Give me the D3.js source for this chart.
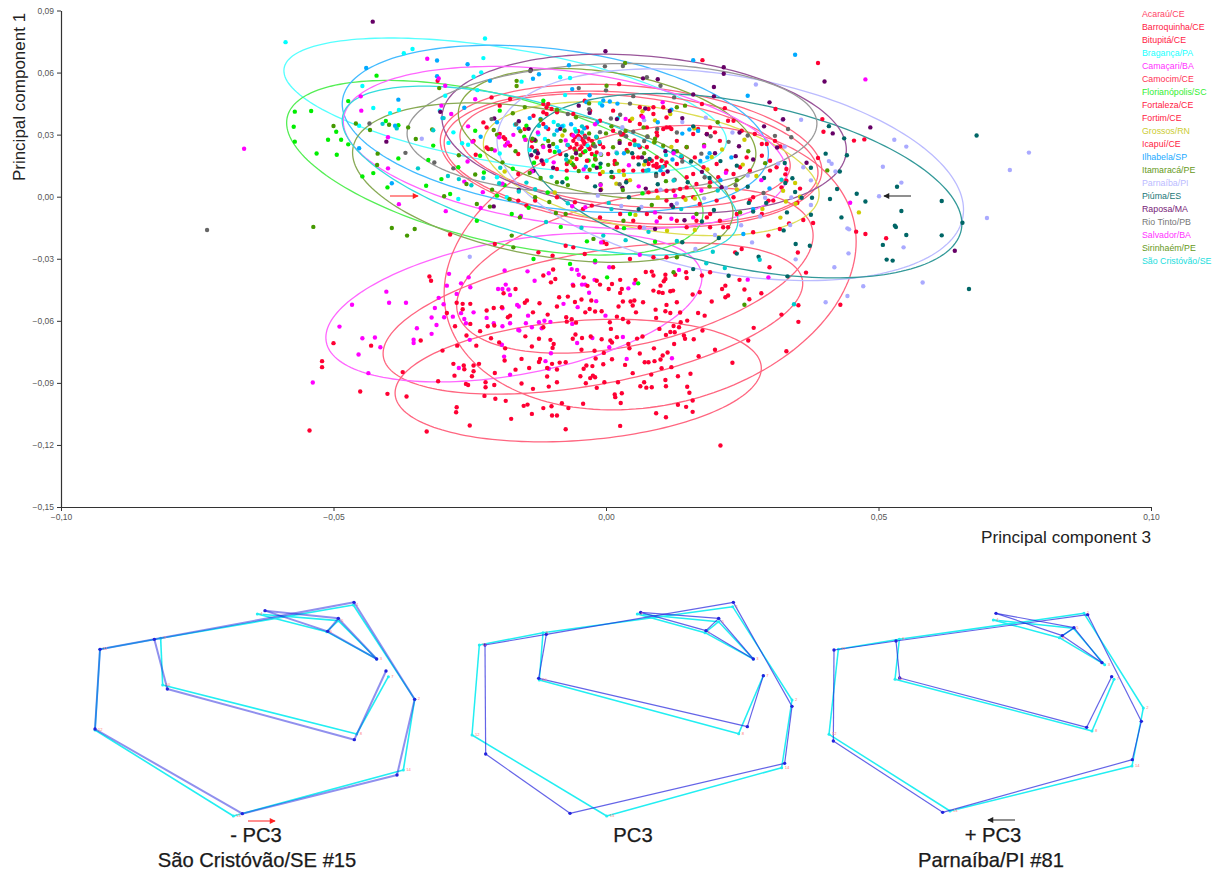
<!DOCTYPE html>
<html><head><meta charset="utf-8">
<script src="https://cdn.jsdelivr.net/npm/d3@7"></script>
<style>html,body{margin:0;background:#fff}svg{display:block}text{font-family:"Liberation Sans",Arial,sans-serif}</style>
</head><body><svg id="c" width="1224" height="872"></svg>
<script>
// Score values are in thousandths of a principal-component unit: [PC3, PC1]
const groupNames=["Acaraú/CE","Barroquinha/CE","Bitupitá/CE","Bragança/PA","Camaçari/BA","Camocim/CE","Florianópolis/SC","Fortaleza/CE","Fortim/CE","Grossos/RN","Icapuí/CE","Ilhabela/SP","Itamaracá/PE","Parnaíba/PI","Piúma/ES","Raposa/MA","Rio Tinto/PB","Salvador/BA","Sirinhaém/PE","São Cristóvão/SE"];
const dotColors=["#ff0033","#ff0033","#ff0033","#00ffff","#ff00ff","#ff0033","#00ee00","#ff0033","#ff0033","#cccc00","#ff0033","#00aaff","#559900","#aaaaff","#006666","#660066","#666666","#ff00ff","#449900","#00cccc"];
const lineColors=["#ff6680","#ff6680","#ff6680","#55ffff","#ff66ff","#ff6680","#55ee55","#ff6680","#ff6680","#dddd55","#ff6680","#44bbff","#88aa44","#bbbbff","#339999","#995599","#999999","#ff66ff","#88aa55","#33dddd"];
const legendColors=["#ff4466","#ff2244","#ff2244","#22ffff","#ff33ff","#ff3355","#33ee33","#ff2244","#ff2244","#cccc33","#ff2244","#22aaff","#669922","#bbbbff","#227777","#772277","#777777","#ff33ff","#669922","#22dddd"];

const acarau=[[17.7,66],[-30.9,56],[2.4,54.4],[-21,48],[-17.6,47.2],[-11.5,44.8],[-10.6,44.8],[-3.9,46.4],[1.3,41.6],[6.2,43.2],[7.8,42.4],[10.5,43.2],[17.6,44.8],[21.8,42.8],[31.1,42.4],[38.9,64.6],[39.7,37.5],[39.9,31.4],[45.5,27.1],[47.4,27.7],[38.9,18.7],[33.1,13.4],[32.9,10.8],[32,24.3],[35.6,3.9],[35.1,-3],[38,-12.7],[36.2,-11.3],[33.6,-12.9],[-10.9,43.2],[-10,42.4],[-11.5,40.8],[-21.9,23.8],[-19.5,30.3],[-18.5,27.9],[-17.6,24.7],[-14.9,32.7],[-13.6,23.9],[-12.7,19],[-6.6,23.9],[-5.7,28.7],[-5.1,29.5],[-4.5,27.9],[-3.9,25.5],[-3.2,23.9],[-2.6,27],[-4.8,23],[-4.2,21.4],[-2.6,20.6],[-.5,23.9]];
const barroquinha=[[-32.4,-38.6],[-32.1,-40.6],[-52.1,-79.5],[-52.1,-82.4],[-50,-70.8],[-43.1,-72],[-34,-69.5],[-45.1,-94.2],[-40.1,-95.3],[-36.6,-96.6],[-54.4,-113],[-32.9,-113.5],[-37.3,-84.8],[-30.8,-89.2],[-30,-74.4],[-28,-80.8],[-26.1,-81.6],[-26,-83.4],[-27.8,-86.5],[-24.3,-81.6],[-23.3,-80.8],[-24.3,-84.4],[-24.6,-86.8],[-25.7,-90.5],[-25.3,-91],[-22.1,-89.7],[-22.1,-92.1],[-20.5,-91],[-20.4,-85.2],[-22.3,-96.3],[-20.3,-97.7],[-18.4,-98.7],[-27.4,-101.8],[-27.5,-104.2],[-25,-110.6],[-17.4,-107.4],[-15.1,-101.1],[-14.4,-100.5],[-13.6,-105],[-11.5,-102.2],[-10,-101.3],[-9.9,-105.8],[-9,-105.8],[-8.1,-99.8],[-6.9,-102.2],[-7.4,-112.4],[-4.2,-100.1],[2.6,-110.8],[1.6,-95.6],[1.7,-96.9],[2.9,-95],[2.7,-99.7],[9.2,-104.7],[11,-106.6],[13.2,-100.6],[14.7,-101.6],[15.9,-104],[15.9,-98.5],[15.3,-94.8],[14.9,-91.9],[11,-91.6],[10.9,-88.6],[8.4,-92.1],[7.4,-92.3],[6.3,-91.6],[7,-89.7],[21,-120.3]];
const bitupita=[[-18.8,28.7],[-21.6,23],[-24.3,27],[-23.9,20.3],[-22.5,35.9],[-19.5,44],[-10.9,40],[-10.6,32.7],[-9,40.8],[-11.5,35.1],[-13.3,39.1],[-16.1,20.6],[-18.2,25.5],[-21.9,33.5],[-13.6,27],[-12.7,22.2],[-11.5,15.8],[-10.3,22.2],[-9,13.4],[-16.1,-1.9],[-14.6,-4.3],[-13,-1.9],[-16.1,11],[-9,-.3],[-5.7,-2.7],[-4.2,-5.9],[-2.6,-4.3],[-.5,-22],[.1,-22.9],[-6,-24.5],[-7.4,-23.7],[-3.9,-27.7],[-12.4,-26.9],[-9.8,-28.5],[-20.4,-22.9],[-28.6,-18.3],[.4,20.6],[1.6,15.8],[5.9,19],[7.8,15.8],[8.4,17.4],[9.3,15.8],[9.3,14.2],[10.2,17.4],[10.8,15],[11.7,33.5],[10.5,32.7],[9.3,31.1],[7.5,33.5],[6.5,39.1],[11.1,38.3],[8.7,43.2],[16.9,32.7],[18.5,30.3],[20,31.1]];
const braganca=[[-44.7,53.5],[-42.7,42.9],[-39.6,40.4],[-38,41.9],[-45.3,34.3],[-58.8,74.7],[-22.2,76.5],[-37.1,69.3],[-35.5,71.4],[-22.5,67],[-15.5,55.6],[-6.6,57.4],[-8.4,57.7],[-7.5,49.1],[-1.1,45.1],[-23.6,51.5],[-22.9,60.1],[-24.3,58],[-29.5,48.8],[-30.5,41.6],[-28,31.1],[-25.3,25.1],[-26.4,25.8],[-28.9,26],[-19.5,20.9],[-20,9.4],[-16.7,34.8],[-7.8,34.3],[-5.7,32.7],[-10.9,17.4],[-9,23.9],[-18.2,-.3],[-27.1,-1.1],[-12.4,30.2],[-9.6,36.1],[-3.4,24.8],[2.2,38],[-14,22.6],[-11.2,27.9]];
const camacari=[[-28.8,-37.3],[-26.6,-41.9],[-25.2,-39],[-24.9,-43.8],[-29.2,-43],[-27.4,-47],[-18.6,-35.7],[-14.4,-36.1],[-13.1,-40.6],[-10.5,-37],[-5.3,-35.4],[-5,-37.7],[-2,-31.7],[.6,-34.1],[13.4,-35.4],[5.2,-41.9],[4.1,-44.3],[-40.3,-45.9],[-46.6,-52.2],[-39.8,-51.3],[-36.7,-51.3],[-48.9,-62.8],[-44.7,-68.4],[-42.4,-68.1],[-41.4,-72.8],[-45.4,-76.3],[-43.6,-85.3],[-53.8,-89.8],[-34.7,-63.6],[-35.3,-69.1],[-35.3,-70.7],[-32,-66.3],[-31.1,-62],[-32,-58.4],[-31.4,-53.8],[-30.7,-48.9],[-29.8,-52],[-29.7,-58.3],[-28.1,-58],[-26.6,-56.3],[-26,-59.1],[-25.7,-61.2],[-24.3,-55.9],[-25,-69.2],[-19.8,-44.6],[-19,-44.6],[-18.4,-42.5],[-17.9,-44.9],[-17.6,-47.5],[-19,-53.9],[-16.3,-52.3],[-16,-53.1],[-21.9,-58.6],[-20.6,-61.2],[-19,-62.6],[-17.6,-61.2],[-16.1,-64.4],[-15.9,-64.7],[-14.7,-61.2],[-14.3,-57.5],[-13.6,-63.1],[-12.3,-60.7],[-11.3,-60],[-10.2,-60.5],[-11.8,-63.6],[-19.1,-71.6],[-18.7,-77.3],[-27,-82.8],[-17.6,-86],[-11.1,-79.5],[-10.5,-83.2],[-10.1,-75.7],[-7.8,-51.8],[-5.2,-53.4],[-6.1,-42.5],[-4.4,-42.5],[-3.8,-42.5],[-3.1,-46.4],[-1.8,-50.5],[-6.2,-61.5],[-2.5,-68.3],[-5.3,-70.7],[-.1,-57.5],[3.1,-67.8],[.6,-72.8],[3.8,-78.4],[12.1,-78.1],[26,-40.1],[29.8,-39],[-2.1,-40.2]];
const camocim=[[23.2,-80.3],[20,-74],[17,-77.1],[16.1,-68.9],[14.3,-67.1],[14.5,-68.7],[12.5,-71.2],[11,-66.8],[11.8,-65.4],[12.6,-65.5],[13.4,-63.1],[12.4,-62.5],[9.8,-63.9],[14.9,-59.9],[13.7,-60.7],[17.7,-64.7],[26.1,-69.5],[33.1,-74.7],[27.1,-63.4],[32.2,-57],[35.3,-60.5],[8.8,-73.3],[11.3,-75.3],[10,-78.7],[10.4,-76.8],[8.9,-79.5],[7.8,-80],[7.1,-80],[12,-82.4],[10.2,-82.9],[13.2,-86.8],[15.5,-85.6],[8.3,-86],[6.2,-75.8],[4.3,-73.3],[6.7,-67.6],[5.7,-68.6],[4.1,-71.2],[4.9,-85.3],[3.5,-81.3],[1.1,-78.6],[-.5,-81],[-1.9,-78.2],[-.4,-75.5],[-2.1,-74.5],[-4.5,-74],[1.1,-70.5],[.8,-69.5],[-.8,-68.9],[-2.8,-67.6],[-4.4,-68.3],[-5.6,-66.6],[-6.1,-68.7],[2,-67.9],[.9,-63.9],[.7,-60.7],[4.1,-60.7],[3.1,-59.1],[2,-58],[-.3,-89.7],[2.2,-89.7],[-1.7,-92.4],[-2,-87.3],[-2.4,-86.5],[-2.9,-87.7],[-3.7,-90.2],[-4.7,-86.8],[-4.1,-83.2],[-3.6,-81.6],[-2.5,-81.9]];
const florianopolis=[[-42.1,58.5],[-47.3,46.2],[-57.1,41.1],[-54.1,41.4],[-57.3,33.8],[-57.1,26.6],[-53.1,20.9],[-49.4,20.3],[-51,27.5],[-49.5,31.4],[-48.6,27.5],[-47.3,25.3],[-40.4,36.6],[-38.1,34.5],[-38.1,18.5],[-44.7,9.8],[-42.7,11.4],[-40.1,4.5],[-31.7,24.7],[-32.6,17.7],[-33,5.3],[-30.2,8.5],[-27.1,14.2],[-24,31.9],[-23.1,19.8],[-20,.5],[-17.3,-8.4],[-23.7,-11.6],[-28.6,1.3],[-19.5,41.6],[-14.6,34.3],[-11.5,46.4],[-2.3,15],[-2,-30.9],[-13.3,-30.1],[4.4,-8.4],[-1.1,14.2],[-6.6,-32.5],[.2,-39],[5.9,-41.9],[-9.4,21.6],[-6.3,16.2],[-3.8,22],[-15,29],[-13.2,16.4],[-17.1,13.5],[-3.2,17.5],[-2,19.8],[-7.2,8.8],[-10.7,2],[-14.2,-5.4],[-18.6,5.6],[-22.4,11.7],[-8.3,-14.6],[-3.5,-21.6],[3.3,-15.2],[9,-21.8],[6.7,1.6]];
const fortaleza=[[-4.8,28.7],[-4.2,27],[-5.4,25.5],[-4.5,23.9],[-3.9,29.5],[-6,27],[-3,23],[-1.1,25.5],[-1.7,21.4],[-2,18.2],[-3.5,17.4],[-5.4,18.2],[-7.2,15.8],[-8.4,20.6],[4.4,36.7],[6.2,35.1],[8.7,40],[11.1,33.5],[12,32.7],[13,27],[16,30.3],[19.1,33.5],[20.9,27],[22.4,36.7],[29.5,25.5],[25.8,19],[-6.3,30],[-5.1,31.6],[-4,26.2],[-3.2,28],[-5.8,23.2],[-2.4,24.7],[2.8,30],[5.2,27.2],[7.5,24],[9.4,29.6],[1.6,17.3],[3.8,22.6],[23.4,36.7],[24.9,31.9],[27.3,30.3],[28.6,25.5],[31,27],[30.1,17.4],[28.6,19.8],[26.4,12.6],[24.6,14.2],[22.1,12.6],[20.6,9.4],[19.1,7],[16.6,6.1],[14.8,9.4],[13.6,3.7],[11.1,2.9],[9.3,2.9],[7.8,2.1],[16,-.3],[17.2,-3.5]];
const fortim=[[7.5,17.4],[8.7,15],[9.3,19],[9.9,14.2],[11.1,16.6],[6.8,12.6],[5,19],[3.2,12.6],[30.1,12.6],[31.3,14.2],[33.1,7.7],[23.4,11],[20.3,15.8],[17.9,14.2],[16,11],[14.8,4.5],[12.4,2.9],[14.2,-.3],[11.1,-1.9],[27,-.3],[29.8,-1.9],[23.4,-.3],[20.3,-1.9],[19.1,-14.8],[21.5,-14.8],[16.6,-11.6],[18.5,-10],[14.8,-14.8],[13,-11.6],[9.9,-10],[7.5,-8.4],[6.2,-14.8],[2,-14.8],[2.6,-8.4],[-1.1,-10],[5,-11.6],[27,-17.2],[31.9,-15.6],[29.8,-18.8],[23.7,-26.9],[24.9,-25.3],[11.1,-29.3],[8.7,-29.3],[4.4,-30.1],[1.3,-34.1],[45.9,-16.9],[47.6,-18],[51.4,-20.1],[35.2,-27],[36.7,-36.7],[43,-52.2],[35.3,-52.5],[19.1,-8.4],[20.9,-11.6],[22.4,-14.8],[24,-8.4],[26.4,-1.9],[28.6,-8.4],[30.7,-1.9],[32.2,4.5],[10.5,11],[5,12.6],[1.3,9.4],[3.8,7.7],[-1.1,11],[-3.5,9.4],[-5.7,14.2],[-7.2,12.6],[-3.5,33.5],[-2.9,41.6],[-6,40],[-1.1,36.7],[1.3,31.9],[3.2,30.3],[4.4,25.5],[6.2,23.9],[14.8,23.9],[13.9,19],[13,15.8],[16.3,19]];
const grossos=[[46.4,-7.6],[34.7,6.6],[33,-2.3],[34.8,-3.4],[35.6,0],[32,-10.1],[32.5,2.9],[-18.6,12.2],[-14.7,27.5],[-8,29.6],[-6.6,17],[-.6,11.9],[3.3,10.5],[7,15.5],[8.8,26.3],[6.7,41.3],[4.8,37.7],[11.8,40],[16.2,33],[19.4,19.2],[21.3,22.8],[25.4,27.5],[27.6,10],[24,3.5],[16.3,-.9],[9.5,-.4],[5.4,-8.8],[11.2,-16.5],[16.3,-16.1],[1.9,6.3],[-.9,3.6],[28.7,-5.9],[2.4,12.4],[4.4,8],[14.6,-1.5],[18.6,13.2],[25.1,15.5],[12,24.1],[9,36.9],[-9.4,2]];
const icapui=[[-9,-83.5],[-10.8,-82.8],[-10.8,-86.9],[-10.5,-91.8],[-9,-89.7],[-9.9,-80.8],[-8.5,-80.2],[-7.4,-80],[-12.1,-78.4],[-12.3,-79.9],[-14.1,-82.8],[-15.5,-78.4],[-16.6,-83.6],[-15.5,-90.3],[-13.4,-92.9],[-18.6,-79.2],[-18.5,-73.3],[-19.6,-70.5],[-21.1,-68.4],[-23.8,-72],[-27.3,-72],[-25.6,-67.1],[-23.1,-65],[-9.6,-71.2],[-9.8,-73.1],[-13.6,-72.4],[-12.3,-68.7],[-10.2,-69.2],[-14.8,-67.5],[-11.5,-63.1],[-7.3,-58.3],[-6.3,-59.2],[-5.5,-60.9],[-7.2,-60.4],[-10.7,-57],[-13.4,-55.9],[-18,-58.3],[-17.6,-57.5],[-19.1,-53.4],[-20.6,-53.8],[-21.9,-55],[-21.7,-62.6],[-20.5,-62.3],[-24.9,-61.5],[-27.7,-62.6],[-29.2,-56.2],[-24.9,-51.8],[-26.3,-51.8],[-27.4,-51.3],[-26.3,-54.4],[-12.2,-51.5],[-14.5,-50.2],[-14.9,-51.3],[-9,-53.1],[-8.6,-48.6],[-7,-48.3],[-5.7,-50.9],[-4.5,-49.7],[-3.8,-55.9],[-3,-54.3],[-2,-55.5],[-.8,-55.4],[-2.7,-50.2],[2.3,-53.1],[3.1,-50.7],[4.5,-50.7],[5.2,-50.2],[4.9,-52.6],[6.8,-51],[5.5,-55.9],[9.1,-54.6],[9.2,-58.6],[10.9,-55.4],[11.8,-56.2],[13.6,-56],[11.1,-52.3],[13,-51],[16.9,-56.2],[18.1,-57.5],[19.4,-50.7],[15.9,-47.3],[17.2,-46.2],[21.3,-44.6],[21.9,-43],[22.4,-47.8],[21.9,-48.6],[24.5,-40.2],[25.4,-44.9],[28.5,-46.7],[26.3,-49.6],[30,-34.1],[8.7,-45.4],[9.7,-46.2],[10.4,-46.5],[11.8,-45.7],[12.3,-45.4],[10,-43],[10.6,-40.9],[10.9,-39.8],[12.7,-37.7],[10.9,-37.7],[8.7,-38.1],[7.3,-36.4],[8.4,-36.2],[14.7,-36.5],[14.8,-39.3],[19.1,-36.5],[17.6,-38.1],[5.4,-40.2],[2.6,-40.2],[2.9,-44.6],[2.6,-46.5],[1.1,-42.2],[-1.1,-42.5],[.5,-44.6],[-1.7,-40.6],[-3.4,-43.1],[-4.1,-39],[-6,-43],[-9.3,-39.8],[-10.1,-41.4],[-11.5,-38.1],[-16.6,-44.6],[-18.8,-46.7],[-9.7,-35.2]];
const ilhabela=[[-44,62.2],[-38.1,46.9],[-45.3,23.4],[-39.3,6.5],[-38.7,34.3],[-31,65.8],[-31,58.2],[-25.4,64],[-21.3,56],[-6.8,63.5],[-12.3,59.2],[-13.4,57],[-6.2,52],[-3,49],[-.5,46.5],[2.1,45],[16,66],[34.7,68.6],[26,48.8],[12,42],[9.5,36],[14,30.5],[16.9,31.8],[-1.6,36],[-4,33],[-9,32],[-14,38],[-16,33],[-20,36],[-23,29],[-26,43],[-30,38],[-8.6,22],[-3.7,14.5],[3.3,21],[6,24.8],[10,12.8],[19,21],[23,19],[21,8],[30,4],[27,-6],[25.2,-18],[-.7,44.1],[-3.6,45.7],[.7,46],[-11,33.6],[-8.1,34],[-6.4,35],[-12,37.6],[15.3,32.5],[12.2,18],[7.8,12.9],[17.3,17.3],[18.6,19]];
const itamaraca=[[-31.9,32.5],[-30.6,52.5],[-16.4,56],[-16.4,53.5],[.1,53.6],[3.5,64.6],[-9.7,25.5],[-1.7,28.7],[-2.3,25.5],[1.3,23.9],[2.5,27],[6.9,33.5],[13,43.2],[14.5,44],[40.6,12.7],[-5.5,38.4],[-3.1,45.1],[-9,42],[-12,37.2],[-15.7,31.6],[-20,30],[-7,17],[-3,13],[2,16],[7,21],[9,28],[13,22],[18,25],[20.5,36],[26.1,22],[29.2,16.2],[24,8],[19,5],[-11.6,24.7],[-10.6,26.9],[-12.9,27],[-6.2,19],[-5.5,22],[-.9,20.3],[-1.9,18],[0,30.6],[1,34],[3.6,31.8],[4,21.8],[7.6,29.1],[8.9,26.3],[10.5,24.6],[14.8,24],[-17.1,40.3],[-14.9,43.3],[-20.6,32.2]];
const parnaiba=[[77.6,21.3],[74.1,12.9],[69.9,-10.3],[58.1,-41.5],[55.1,24.2],[52.9,27.5],[50.8,14.5],[54.2,6.8],[50.1,.2],[54.6,-24.5],[44.5,-27.4],[41.9,-34.1],[47.2,-43.3],[44.3,-48],[40.3,-51],[44.3,-15.3],[44.6,-15.8],[40.9,17.2],[41.4,15.9],[42.1,12.2],[36.2,14.2],[37.6,7.9],[37.6,-4],[33.8,-13.7],[34.8,-30.3],[35.8,37.2],[32.4,37.2],[32.8,24.2],[29.2,-.5],[28.3,-9.6],[24.8,-13.8],[26.8,-22.1],[20,-18.5],[16.4,-25.3],[7,-15],[6.5,-5],[14,36.1],[18.3,38.2],[23.2,31],[27.5,54.2],[-25,-29],[-5,28],[-33.8,28],[1.9,21.5],[-1,20.6],[3,33.6],[7,37],[10,3.4],[13,-3.3],[22,4.2],[26,10.2],[31.6,16],[34,-.4],[-1.5,0.5],[2.8,-4.5],[18,-.8]];
const piuma=[[68,29.6],[61.6,-2.1],[65.4,-12.6],[61.6,-18.7],[66.6,-44.6],[53.4,4.8],[46,1.4],[47.6,-2.3],[54.2,-6.9],[53,-14],[53.2,-14.7],[55.1,-18.5],[50.8,-23.3],[51.5,-30.4],[52.6,-30.9],[43.2,-10],[41.1,-1.1],[42.4,3.7],[37.8,-.5],[35.9,-.5],[37.6,-8.7],[33.2,-7.6],[32.6,-16.3],[34.8,-22.9],[37.4,-23.7],[33.3,-38.5],[40.3,20.8],[44.2,20],[42.9,12.2],[43.7,28.2],[40.9,34.1],[37.6,14],[34.2,8.9],[32.8,16.3],[32.9,6.6],[34.7,2.3],[29.4,-3],[27,-7.2],[26,4.8],[24,15],[21,17.2],[19,9],[15,7],[12.3,-5],[9.2,11],[7.2,17.2],[4.8,21],[-1,16],[-7.3,20],[-13,22],[-8,7],[-2,5],[16,34],[14,-22],[6,-6],[20.7,-20],[24,-27.5],[16,-35],[28,-29],[22.5,-38.2],[6,15.6],[8,18.2],[12.4,21.9],[15.6,17],[3.7,7],[1,12],[9.5,6],[4.2,-.3],[29,9],[26.2,-3],[19.8,-6.4],[17.6,-12]];
const raposa=[[-42.8,84.6],[-40.3,26.6],[40.1,55.7],[48.5,33.5],[41.6,30.6],[36.8,16.4],[64,-26.1],[32.5,37.4],[21.6,62.6],[21.6,59.4],[-.1,70.3],[-13.8,61.4],[9.5,56.8],[6.8,57.2],[19.8,53],[16,49.4],[19.8,48.5],[30,45.6],[-30.4,41],[-20.5,37.8],[-16,36.5],[-14.2,32.8],[-13.1,27.5],[-8.4,32.8],[-3,40.5],[2,37.5],[7.2,42.6],[11.7,41.4],[14,38],[18.5,30.2],[24.5,31],[29,34],[24.4,24.4],[20,21],[10.9,22],[6.6,19],[2.5,26],[-5.5,21],[-9.7,14],[-13.3,12.5],[-16,3.3],[-20.6,-4.7],[12,-4],[14.4,-11.4],[9,-15.6],[-12.5,21],[-11.8,17.5],[-13.7,20],[-10.4,24.5],[-1.7,14],[-1,3.2],[3,4.4],[11.3,12.2],[17.6,12],[23.8,19.6],[31.4,23.8],[27,18],[21.2,4.6],[7.3,3.9],[-5,44]];
const rioTinto=[[-73.2,-16.1],[-43.4,35.4],[33.4,32.7],[34,28.7],[-.2,63],[3.1,63.2],[-13.9,60.7],[-5,52.5],[0,51.4],[5,48.6],[7.5,57.7],[10,53.6],[12.5,48],[4.4,45],[2.6,39.6],[-3.1,42.3],[-7,40],[-16.5,35],[-21,37.5],[-3.8,28.7],[2.6,31],[7.6,29],[13,31],[19.2,29.2],[22.5,26.5],[-1,6],[2.5,6],[-2,24.3],[23.8,5.5],[28.9,1.8],[18.1,9.4],[12.6,8.2],[9.2,10],[-28,13.7],[-36.8,21.2],[-31.5,16.5],[3.7,29.2],[5,31.4],[7,26.9],[9.4,32.8],[-1.1,31.2],[0.9,37.8],[14,17],[17.5,20.8],[26,29.6],[31,29.4]];
const salvador=[[-66.4,23.2],[-45,48.5],[-44.9,41.6],[-40,28.7],[-40,13.7],[-32.8,66.7],[-30.7,57.1],[-29.5,53.6],[-24,47.1],[-30.2,44],[-28.4,40],[-25.3,34],[-24.5,26.6],[-20.4,22.3],[-18.5,24.7],[-18,26.2],[-11.5,24],[-12.5,31],[-6,29.6],[-2,35],[3.6,37.6],[6.8,38.4],[10.4,45.6],[47.6,56.7],[44.8,-2.9],[12.4,21],[18,24.3],[22,11.6],[28.5,8],[6,5],[-1,5.6],[-.9,-22.1],[-3.8,-5.1],[-6.2,-4.6],[-15.6,-9.3],[-23,-5.5],[-29.4,-7],[-38,-3.6],[12,-10.7],[16,-10],[9,-7.6],[6.2,-28.1],[-6.3,-35],[-19.6,28.7],[-17,29.9],[-14.8,27.5],[-7.1,25],[-7.4,27.2],[-4.1,13.2],[-9.6,16.6],[-13.6,12.2],[-19,6.3],[-22.6,2.2],[-26,7.3],[-25.4,17],[4.2,15.2],[9.3,-12],[12.7,.5],[17.5,3]];
const sirinhaem=[[-50,34.2],[-45.9,35.4],[-43.3,32.2],[-39.8,34.8],[-41.9,20.8],[-42,15.3],[-53.7,-14.6],[-39.3,-15.1],[-34.9,27.9],[-36.3,33.5],[24.6,-7.6],[16.6,-8.4],[13,-29.3],[3.2,-11.6],[-2.3,-20.4],[-7.4,-8.4],[-9.2,-7.9],[-13,-.3],[-15.8,-10],[-17.3,-18.8],[-17,-24.5],[-23.7,-3.5],[-25.6,6.1],[-29.7,.2],[-35.1,-15.6],[-36.5,-18.8],[-21.3,-4.8],[25.4,-52.2],[12.4,-36.5],[-12,9],[-9,7],[-7,5.6],[-19,16.6],[-14,11.5],[-5,12.4],[1,9.6],[-16.6,22],[-13.5,28],[-7.6,32],[-8.3,27],[-4.7,20.1],[-6,15.3],[-3.1,30.6],[.4,15.4],[3.1,3.2],[8.4,-4],[11,7.5],[-10.4,-2.6],[-17.7,-1.2],[-20.9,3.4],[-24,10.7],[-27,20],[-21,23]];
const saoCristovao=[[34.5,-52],[32.2,8.2],[-29.8,38],[-31.7,32.1],[-34.5,13.7],[-29,10],[-27,8.5],[-24.7,5.5],[-22.5,9],[-19.6,6.5],[-16,2.5],[-13,3.6],[-10,9.6],[-7.3,18],[-9.5,30],[-5.5,31.5],[-4.4,34],[-7,25],[-1.8,29],[2,21],[5.3,25],[7.4,12.6],[12.4,7.8],[.5,-3],[-11,-12.2],[-4.5,-15],[-.5,-18.8],[3.6,-21],[7.8,-17],[13,-21.4],[18.4,-32.2],[21.8,-34.5],[19.6,-26.6],[28.2,-30.5],[-41,35.2],[-38.4,33],[-7,-3.2],[1,-6],[10.4,14.4],[20.5,3],[13.8,-6],[-12.3,34.3],[-8.8,34.6],[-4.4,31],[-1.2,26.4],[11,20.1],[13.8,19.6],[-19.4,14],[-14.6,6.8]];
const groupValues=[acarau,barroquinha,bitupita,braganca,camacari,camocim,florianopolis,fortaleza,fortim,grossos,icapui,ilhabela,itamaraca,parnaiba,piuma,raposa,rioTinto,salvador,sirinhaem,saoCristovao];

// 90% ellipses: centre PC3, centre PC1, half width, PC1 shift at the widest point, half height
const ellipseCx=[4.6,-2.4,5.3,-18.5,-16.9,-5.1,-20.4,4.6,3.5,8.3,8.1,-9.3,.2,22.8,25.5,7,1.1,-7.5,-11.6,-12.1];
const ellipseCy=[19.8,-58.9,-35.7,44,-53.6,-88.9,14,18.8,22.2,13.5,-34.3,32.8,30.4,10.6,5.3,30.4,32.9,23.7,6.8,12.6];
const ellipseHw=[35,38.5,32.7,40.6,34.5,33.6,38.2,34.3,30.3,30.8,37.8,39.1,27.3,42.8,39.8,37.1,37.6,40.7,34.9,36.3];
const ellipseSh=[-7.2,16.9,16.9,-16.9,14.5,6,-21.7,-7.2,-7.2,-12.1,12.6,-12,-9.7,-16.9,-18.4,-7.7,2.4,-12.6,-14.5,-24.2];
const ellipseHh=[33.8,32.4,36.2,28,32.9,29,36.2,31.4,26.6,30,67.6,38.6,30,48.3,40.6,37.7,31.4,37.2,35.7,32.9];

const xTicks=[-0.10,-0.05,0,0.05,0.10];
const yTicks=[0.09,0.06,0.03,0,-0.03,-0.06,-0.09,-0.12,-0.15];

// Wireframes: landmark positions in outline units
const linksFrom=[0,0,1,1,2,4,5,6,7,8,9,10,5,11,12];
const linksTo  =[1,2,2,3,3,5,6,7,8,9,10,4,11,12,13];
const landmarkIds=[4,5,6,3,1,9,11,12,13,14,2,10,8,7];
const shapeMinusX=[615,835,803,950,882,283,120,105,547,1011,1064,322,883,978];
const shapeMinusY=[62,85,124,207,37,148,178,417,671,555,328,297,449,243];
const meanMinusX=[592,835,800,950,880,302,120,105,520,1030,1064,308,890,985];
const meanMinusY=[72,92,125,207,45,145,178,420,678,540,328,285,432,260];
const shapeMidX=[572,806,768,910,850,289,105,107,360,1004,1026,266,892,940];
const shapeMidY=[67,85,122,207,37,133,165,492,670,520,349,265,410,257];
const meanMidX=[562,806,765,910,848,279,88,66,470,995,1026,268,866,940];
const meanMidY=[72,95,128,207,50,128,165,435,678,533,330,270,431,257];
const shapePlusX=[558,792,757,876,833,258,72,70,398,967,994,269,830,905];
const shapePlusY=[70,113,137,218,74,153,180,453,667,509,394,264,412,260];
const meanPlusX=[550,790,748,884,822,268,85,57,420,966,1000,255,846,912];
const meanPlusY=[90,115,143,224,70,148,178,433,663,528,354,268,423,268];

const svg=d3.select("#c");
const defs=svg.append("defs");
[["red","#ff2222"],["blk","#222222"]].forEach(([id,c])=>{
  defs.append("marker").attr("id",id).attr("viewBox","0 0 8 8").attr("refX",7).attr("refY",4)
   .attr("markerWidth",7).attr("markerHeight",6).attr("markerUnits","userSpaceOnUse").attr("orient","auto")
   .append("path").attr("d","M0,0L8,4L0,8Z").attr("fill",c);
});
const x=d3.scaleLinear().domain([-0.10,0.10]).range([61,1151]);
const y=d3.scaleLinear().domain([-0.15,0.09]).range([507,10.5]);
const k=v=>v/1000;
const fmt=d3.format(".2f"), comma=v=>fmt(v).replace(".",",");

const plot=svg.append("g");
const ell=d3.line().x(d=>x(d[0])).y(d=>y(d[1])).curve(d3.curveLinearClosed);
const angles=d3.range(0,2*Math.PI,Math.PI/90);
groupNames.forEach((n,i)=>{
  const pts=angles.map(t=>[k(ellipseCx[i]+ellipseHw[i]*Math.cos(t)),k(ellipseCy[i]+ellipseSh[i]*Math.cos(t)+ellipseHh[i]*Math.sin(t))]);
  plot.append("path").attr("d",ell(pts)).attr("fill","none").attr("stroke",lineColors[i]).attr("stroke-width",1.3);
});
groupNames.forEach((n,i)=>{
  plot.append("g").selectAll("circle").data(groupValues[i]).join("circle")
   .attr("cx",d=>x(k(d[0]))).attr("cy",d=>y(k(d[1]))).attr("r",2.2).attr("fill",dotColors[i]);
});

function styleAxis(g){
  g.selectAll(".domain").attr("stroke","#333").attr("stroke-width",1.2);
  g.selectAll(".tick line").attr("stroke","#333");
  g.selectAll("text").attr("fill","#555").attr("font-size",8.5).style("font-family",'"Liberation Sans",Arial,sans-serif');
}
svg.append("g").attr("transform","translate(61,0)")
  .call(d3.axisLeft(y).tickValues(yTicks).tickFormat(comma).tickSize(4).tickSizeOuter(0).tickPadding(3)).call(styleAxis);
svg.append("g").attr("transform","translate(0,507)")
  .call(d3.axisBottom(x).tickValues(xTicks).tickFormat(comma).tickSize(4).tickSizeOuter(0).tickPadding(3)).call(styleAxis);

svg.append("text").attr("transform","translate(25,97) rotate(-90)").attr("text-anchor","middle").attr("font-size",17).attr("fill","#222").text("Principal component 1");
svg.append("text").attr("x",1151).attr("y",543).attr("text-anchor","end").attr("font-size",17.2).attr("fill","#222").text("Principal component 3");

svg.append("g").selectAll("text").data(groupNames).join("text")
 .attr("x",1142).attr("y",(d,i)=>17+i*12.98).attr("font-size",8.8).attr("fill",(d,i)=>legendColors[i]).text(d=>d);

function arrow(x1,x2,yy,id,c){
  svg.append("line").attr("x1",x1).attr("x2",x2).attr("y1",yy).attr("y2",yy).attr("stroke",c).attr("stroke-width",1.1).attr("marker-end",`url(#${id})`);
}
arrow(390,418,196,"red","#ff3333");
arrow(911,884,196,"blk","#333");

function panel(ox,oy,bx,by,cx,cy,wide){
  const px=d3.scaleLinear().domain([0,1110]).range([ox,ox+370]);
  const py=d3.scaleLinear().domain([0,840]).range([oy,oy+280]);
  const g=svg.append("g");
  const draw=(xs,ys,col,w,op,r)=>{
    g.append("g").selectAll("line").data(linksFrom).join("line")
     .attr("x1",d=>px(xs[d])).attr("y1",d=>py(ys[d]))
     .attr("x2",(d,i)=>px(xs[linksTo[i]])).attr("y2",(d,i)=>py(ys[linksTo[i]]))
     .attr("stroke",col).attr("stroke-width",w).attr("stroke-opacity",op);
    g.append("g").selectAll("circle").data(xs).join("circle")
     .attr("cx",d=>px(d)).attr("cy",(d,i)=>py(ys[i])).attr("r",r).attr("fill",col);
  };
  draw(cx,cy,"#22eef2",wide?1.6:1.5,1,1.5);
  draw(bx,by,"#2222dd",wide?2:1.2,wide?0.5:0.7,1.7);
  g.append("g").selectAll("text").data(landmarkIds).join("text")
   .attr("x",(d,i)=>px(cx[i])+3).attr("y",(d,i)=>py(cy[i])+1).attr("font-size",4).attr("fill","#ff7777").text(d=>d);
}
panel(60,590,shapeMinusX,shapeMinusY,meanMinusX,meanMinusY,true);
panel(450,590,shapeMidX,shapeMidY,meanMidX,meanMidY,false);
panel(810,590,shapePlusX,shapePlusY,meanPlusX,meanPlusY,false);

arrow(248,275,821,"red","#ff3333");
arrow(1015,988,820,"blk","#333");

const captions=[["- PC3",256,842],["São Cristóvão/SE #15",257,867],["PC3",633,842],["+ PC3",993,842],["Parnaíba/PI #81",991,867]];
svg.append("g").selectAll("text").data(captions).join("text")
 .attr("x",d=>d[1]).attr("y",d=>d[2]).attr("text-anchor","middle").attr("font-size",20.2).attr("fill","#1a1a1a").attr("stroke","#1a1a1a").attr("stroke-width",0.25).text(d=>d[0]);
</script></body></html>
